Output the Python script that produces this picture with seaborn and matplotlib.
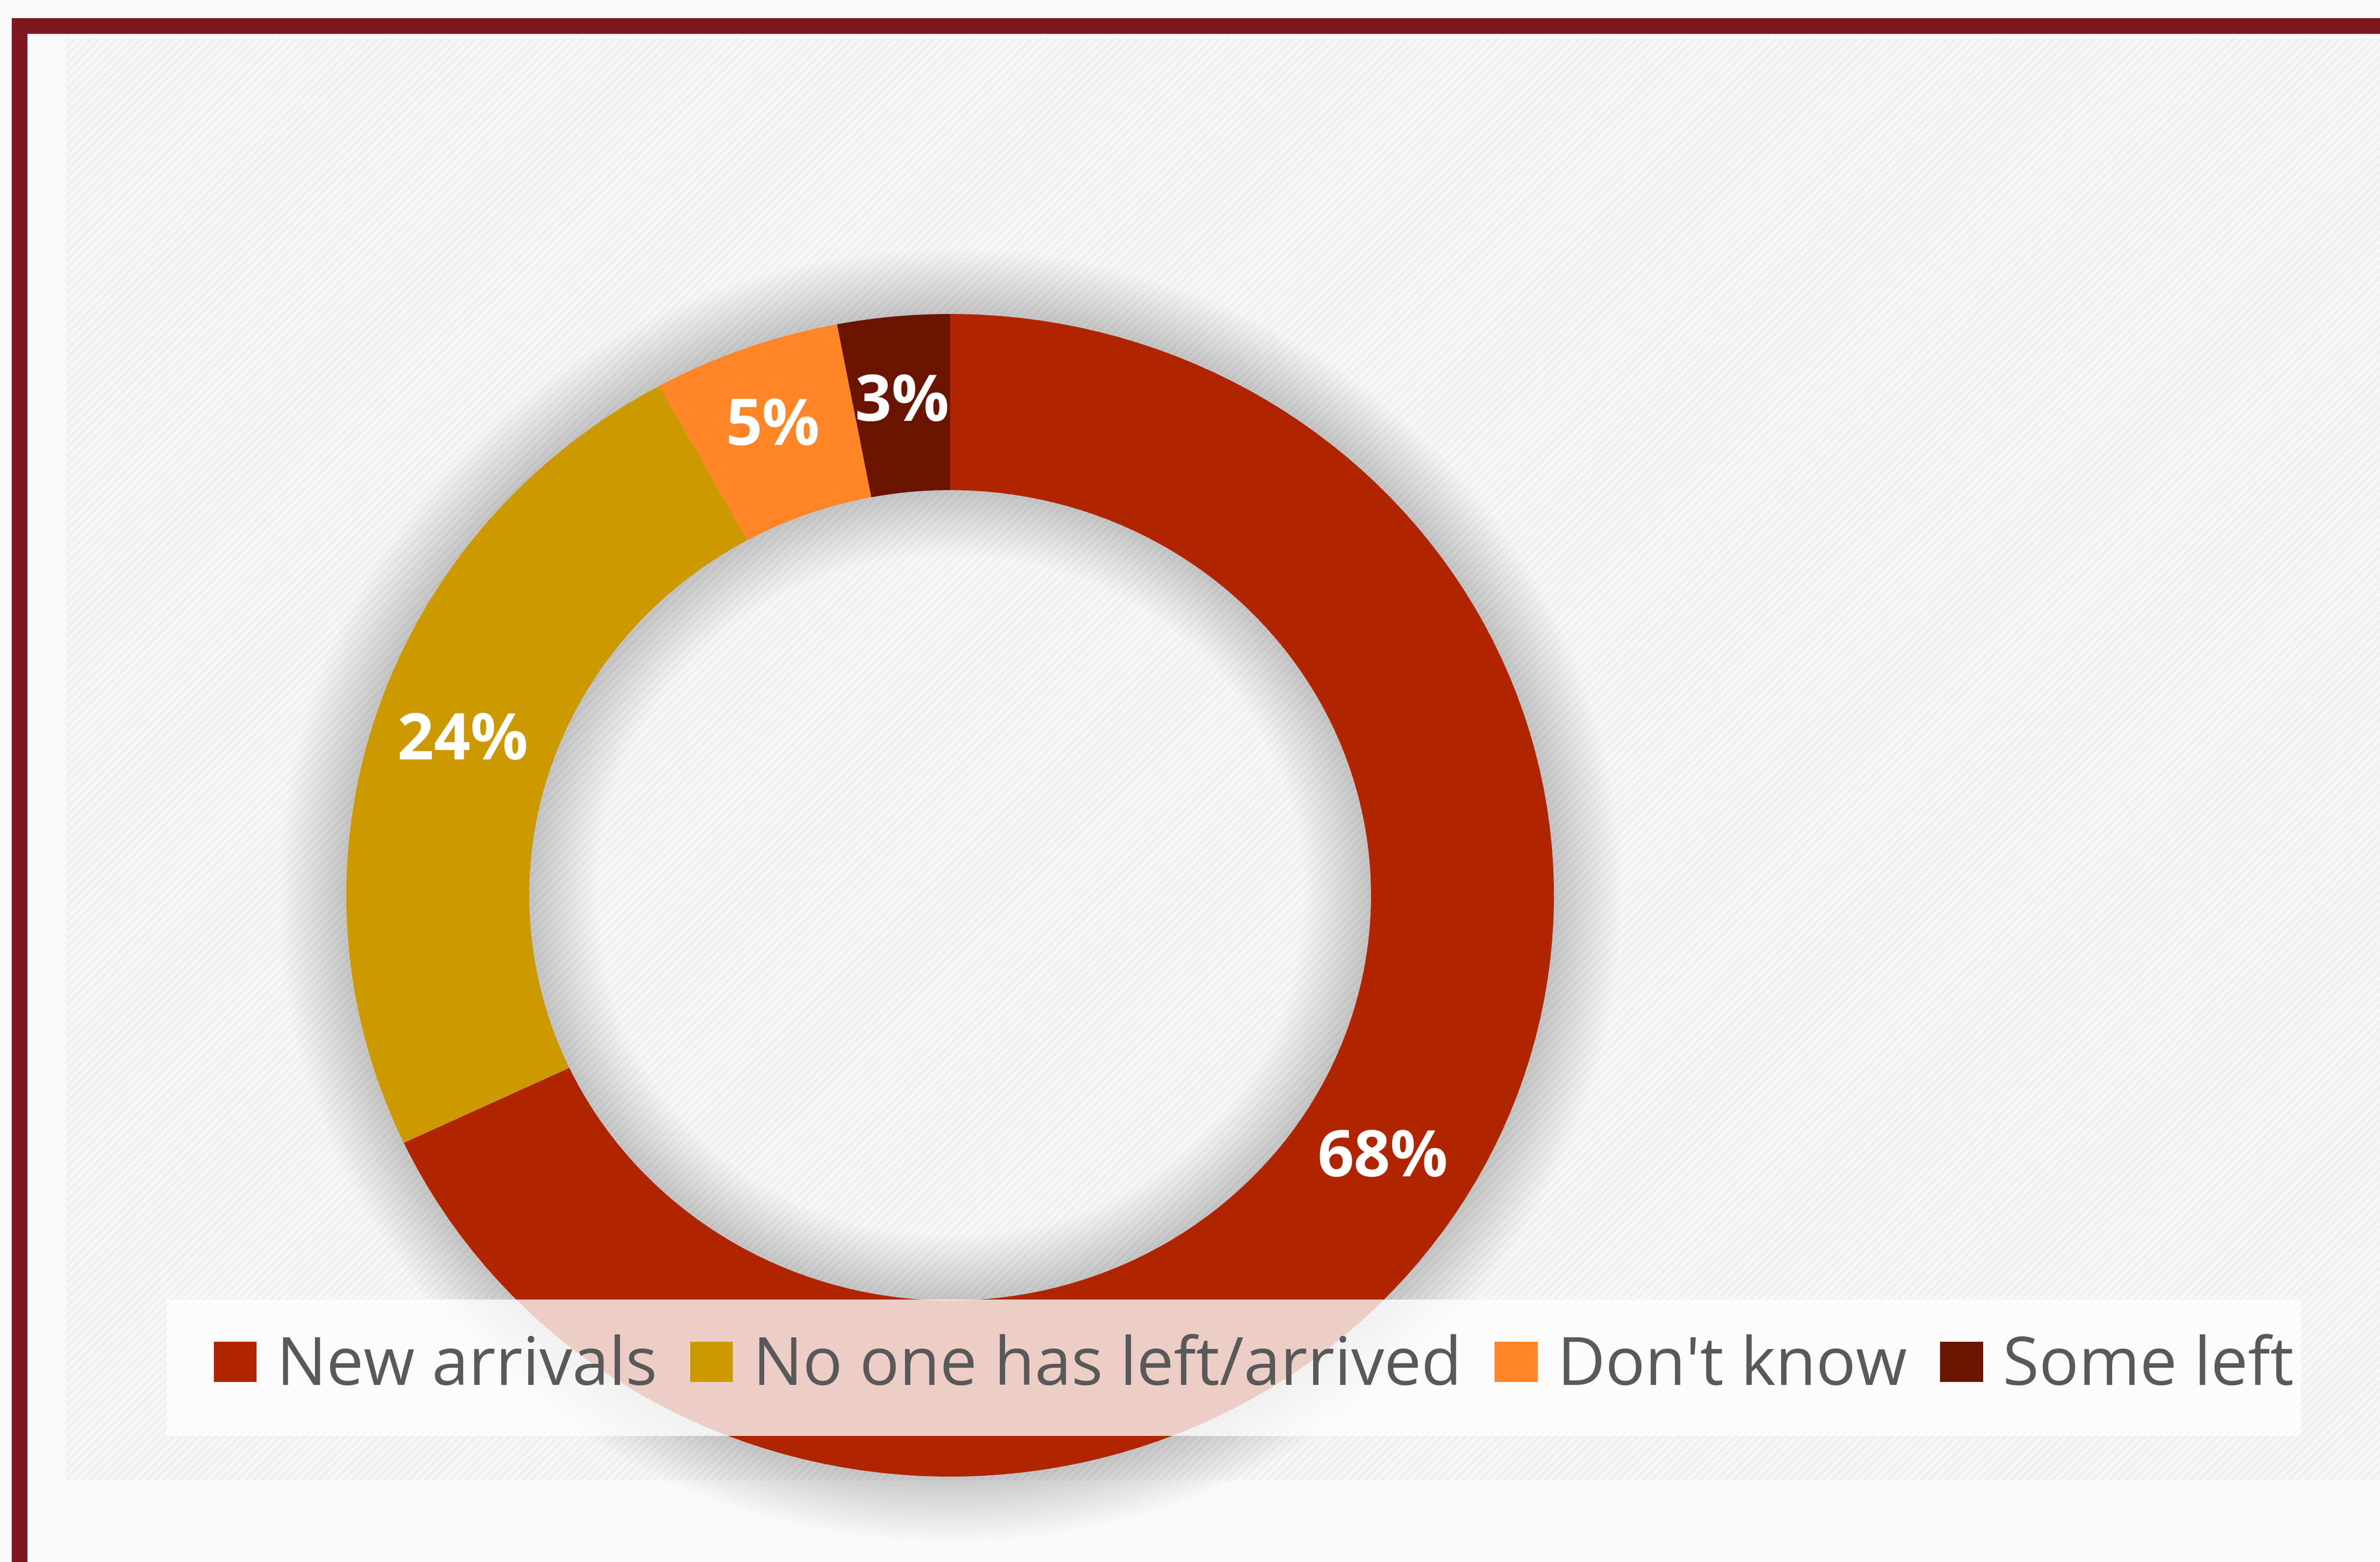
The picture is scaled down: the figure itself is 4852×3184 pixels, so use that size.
import matplotlib
matplotlib.use("Agg")
import matplotlib.pyplot as plt
import seaborn as sns
from matplotlib.patches import Rectangle, Patch, Wedge

# Survey answers (share of respondents, %)
categories = ["New arrivals", "No one has left/arrived", "Don't know", "Some left"]
shares = [68, 24, 5, 3]
colors = ["#B02500", "#CC9900", "#FF8527", "#6B1500"]

sns.set_theme(style="white")
plt.rcParams["font.family"] = ["Open Sans", "DejaVu Sans"]
plt.rcParams["hatch.linewidth"] = 1.2

W, H, DPI = 4852, 3184, 200
fig = plt.figure(figsize=(W / DPI, H / DPI), dpi=DPI)
fig.patch.set_facecolor("#F9F9F9")


def frect(x0, y0, x1, y1, **kw):
    """Rectangle given in pixel coordinates (origin top-left)."""
    r = Rectangle((x0 / W, 1 - y1 / H), (x1 - x0) / W, (y1 - y0) / H,
                  transform=fig.transFigure, lw=0, **kw)
    fig.add_artist(r)
    return r


# chart panel (light woven texture) and frame
frect(136, 78, W, 3018, facecolor="#F6F6F6", edgecolor="#EEEEEE", hatch="////", zorder=-3)
frect(24, 37, 56, H, facecolor="#7E1720", zorder=-2)
frect(24, 37, W, 69, facecolor="#7E1720", zorder=-2)

# donut geometry (pixels)
cx, cy, rx, ry = 1937, 1825, 1231, 1185
lim = 1.3
ax = fig.add_axes([(cx - lim * rx) / W, 1 - (cy + lim * ry) / H,
                   2 * lim * rx / W, 2 * lim * ry / H])
ax.set_facecolor("none")

ring = 0.303

# soft shadow around the ring
n_shadow = 16
for i in range(n_shadow):
    d = 0.11 * (i + 1) / n_shadow
    ax.add_patch(Wedge((0, 0), 1 + d, 0, 360, width=ring + 2 * d,
                       facecolor="black", alpha=0.0105, lw=0, zorder=0))

wedges, _, pct_texts = ax.pie(
    shares, colors=colors, startangle=90, counterclock=False, radius=1,
    wedgeprops=dict(width=ring, edgecolor="none", zorder=2),
    autopct="%d%%", pctdistance=1 - ring / 2,
    textprops=dict(color="white", fontsize=47, fontweight="bold"),
)
for t in pct_texts:
    t.set_zorder(3)
# nudge the small "Don't know" label slightly sideways
x5, y5 = pct_texts[2].get_position()
pct_texts[2].set_position((x5 - 0.006, y5 + 0.005))

ax.set_aspect("auto")
ax.set_xlim(-lim, lim)
ax.set_ylim(-lim, lim)
ax.axis("off")

# legend panel
frect(340, 2649, 4690, 2927, facecolor="white", alpha=0.78, zorder=4)
handles = [Patch(facecolor=c, edgecolor="none", label=l) for c, l in zip(colors, categories)]
leg = fig.legend(handles=handles, loc="center", bbox_to_anchor=(2556 / W, 1 - 2788 / H),
                 ncol=4, frameon=False, fontsize=48.5, labelcolor="#595959",
                 handlelength=0.65, handleheight=0.56, handletextpad=0.3,
                 columnspacing=0.5, borderpad=0)
leg.set_zorder(5)

fig.savefig("out.png", dpi=DPI, facecolor=fig.get_facecolor())
